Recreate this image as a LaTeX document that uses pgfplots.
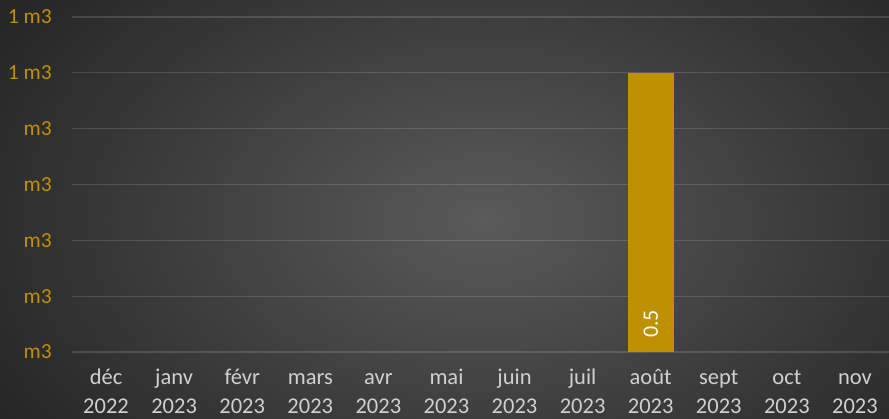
\documentclass[border=0pt]{standalone}
\usepackage{fontspec}
\setmainfont{Carlito}
\usepackage{pgfplots}
\pgfplotsset{compat=1.18}
\definecolor{barcol}{HTML}{BF9000}
\definecolor{ylab}{HTML}{BF9000}
\definecolor{xlab}{HTML}{D0D0D0}
\definecolor{bgin}{HTML}{5A5A5A}
\definecolor{bgout}{HTML}{262626}
\begin{document}
\begin{tikzpicture}[x=1pt,y=1pt]
\path[use as bounding box] (0,0) rectangle (889,419);
\shade[inner color=bgin, outer color=bgout] (-80,-170) rectangle (1049,569);
\begin{axis}[
  at={(72pt,67pt)}, anchor=south west,
  scale only axis, width=817pt, height=335pt,
  xmin=-0.5, xmax=11.5, ymin=0, ymax=0.6,
  axis line style={draw=none},
  tick style={draw=none},
  xtick={0,...,11},
  xticklabels={{\strut déc\\\strut 2022},{\strut janv\\\strut 2023},{\strut févr\\\strut 2023},{\strut mars\\\strut 2023},{\strut avr\\\strut 2023},{\strut mai\\\strut 2023},{\strut juin\\\strut 2023},{\strut juil\\\strut 2023},{\strut août\\\strut 2023},{\strut sept\\\strut 2023},{\strut oct\\\strut 2023},{\strut nov\\\strut 2023}},
  xticklabel style={align=center, font=\fontsize{22.5}{29}\selectfont, text=xlab, anchor=north, yshift=-12pt, inner sep=0pt},
  ytick={0,0.1,0.2,0.3,0.4,0.5,0.6},
  yticklabels={m3,m3,m3,m3,m3,1 m3,1 m3},
  yticklabel style={font=\fontsize{21.5}{24}\selectfont, text=ylab, anchor=east, inner sep=0pt, xshift=-20pt},
  ymajorgrids,
  major grid style={draw=white, draw opacity=0.14, line width=1.3pt},
  clip=false,
]
\addplot[ybar, bar width=46pt, bar shift=0pt, fill=barcol, draw=none] coordinates {(8,0.5)};
\addplot[draw=none, mark=none, nodes near coords, point meta=explicit symbolic,
  every node near coord/.style={rotate=90, anchor=west, inner xsep=14pt, inner ysep=0pt, text=white, font=\fontsize{22}{24}\selectfont}]
  coordinates {(8,0) [0.5]};
\end{axis}
\end{tikzpicture}
\end{document}
